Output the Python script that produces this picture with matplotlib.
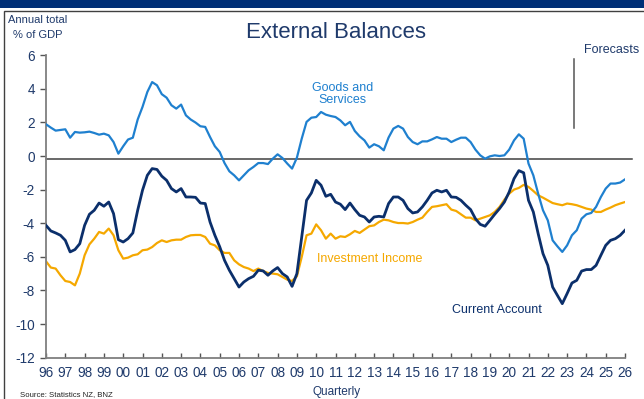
import numpy as np
import matplotlib
matplotlib.use("Agg")
import matplotlib.pyplot as plt
from matplotlib.patches import Rectangle

plt.rcParams['font.family'] = ['Liberation Sans', 'DejaVu Sans']
plt.rcParams['axes.unicode_minus'] = False

# quarterly, 1996Q1 .. 2026Q1, annual totals as % of GDP
goods_services = [
    1.89, 1.69, 1.51, 1.55,
    1.59, 1.09, 1.43, 1.39,
    1.41, 1.45, 1.37, 1.27,
    1.33, 1.23, 0.83, 0.14,
    0.58, 0.98, 1.09, 2.17,
    2.92, 3.81, 4.40, 4.21,
    3.68, 3.47, 3.02, 2.82,
    3.06, 2.42, 2.17, 1.99,
    1.77, 1.73, 1.13, 0.58,
    0.24, -0.42, -0.91, -1.15,
    -1.45, -1.15, -0.85, -0.65,
    -0.42, -0.42, -0.48, -0.16,
    0.10, -0.12, -0.45, -0.75,
    -0.10, 1.03, 2.03, 2.28,
    2.32, 2.62, 2.46, 2.38,
    2.32, 2.12, 1.83, 2.03,
    1.49, 1.17, 0.93, 0.50,
    0.70, 0.58, 0.34, 1.10,
    1.63, 1.79, 1.63, 1.13,
    0.83, 0.70, 0.87, 0.87,
    0.99, 1.13, 1.03, 1.03,
    0.83, 0.97, 1.09, 1.09,
    0.83, 0.38, 0.04, -0.16,
    -0.02, 0.04, 0.00, 0.04,
    0.38, 0.93, 1.29, 1.03,
    -0.45, -1.15, -2.24, -3.23,
    -3.83, -5.02, -5.38, -5.71,
    -5.32, -4.72, -4.42, -3.73,
    -3.47, -3.39, -3.03, -2.44,
    -1.94, -1.64, -1.64, -1.58,
    -1.39,
]

current_account = [
    -4.13, -4.46, -4.58, -4.72,
    -5.02, -5.71, -5.57, -5.22,
    -4.13, -3.47, -3.23, -2.80,
    -2.99, -2.74, -3.43, -4.98,
    -5.12, -4.92, -4.58, -3.23,
    -2.04, -1.15, -0.75, -0.80,
    -1.20, -1.45, -1.94, -2.14,
    -1.94, -2.44, -2.44, -2.46,
    -2.80, -2.83, -3.93, -4.72,
    -5.40, -6.21, -6.80, -7.30,
    -7.80, -7.50, -7.30, -7.16,
    -6.80, -6.84, -7.10, -6.84,
    -6.64, -7.00, -7.20, -7.76,
    -7.00, -4.82, -2.64, -2.20,
    -1.45, -1.74, -2.40, -2.28,
    -2.74, -2.87, -3.19, -2.80,
    -3.19, -3.53, -3.63, -3.93,
    -3.63, -3.59, -3.63, -2.83,
    -2.44, -2.44, -2.64, -3.13,
    -3.39, -3.33, -3.03, -2.64,
    -2.20, -2.04, -2.14, -2.04,
    -2.44, -2.46, -2.64, -2.93,
    -3.19, -3.73, -4.07, -4.18,
    -3.83, -3.47, -3.13, -2.74,
    -2.14, -1.35, -0.87, -1.00,
    -2.64, -3.33, -4.62, -5.81,
    -6.51, -7.80, -8.30, -8.79,
    -8.19, -7.56, -7.40, -6.85,
    -6.76, -6.76, -6.51, -5.91,
    -5.32, -5.02, -4.92, -4.72,
    -4.42,
]

investment_income = [
    -6.27, -6.64, -6.70, -7.10,
    -7.44, -7.50, -7.70, -7.00,
    -5.91, -5.26, -4.92, -4.52,
    -4.62, -4.32, -4.72, -5.61,
    -6.11, -6.05, -5.91, -5.85,
    -5.61, -5.57, -5.42, -5.18,
    -5.02, -5.12, -5.02, -4.98,
    -4.98, -4.82, -4.72, -4.70,
    -4.70, -4.82, -5.22, -5.32,
    -5.61, -5.77, -5.77, -6.21,
    -6.45, -6.61, -6.70, -6.85,
    -6.70, -6.85, -6.96, -7.00,
    -7.04, -7.20, -7.36, -7.44,
    -7.16, -6.01, -4.72, -4.62,
    -4.07, -4.42, -4.92, -4.62,
    -4.92, -4.78, -4.82, -4.66,
    -4.46, -4.58, -4.38, -4.18,
    -4.13, -3.93, -3.79, -3.83,
    -3.93, -3.99, -3.99, -4.02,
    -3.93, -3.79, -3.67, -3.33,
    -3.03, -2.99, -2.93, -2.87,
    -3.19, -3.27, -3.47, -3.67,
    -3.67, -3.83, -3.73, -3.63,
    -3.53, -3.33, -3.03, -2.60,
    -2.24, -2.00, -1.90, -1.72,
    -1.84, -2.08, -2.34, -2.48,
    -2.64, -2.80, -2.87, -2.93,
    -2.83, -2.87, -2.93, -3.03,
    -3.13, -3.19, -3.33, -3.33,
    -3.19, -3.07, -2.93, -2.83,
    -2.74,
]

quarters = 1996 + np.arange(len(goods_services)) / 4
year_ticks = list(range(1996, 2027))
year_labels = ['%02d' % (y % 100) for y in year_ticks]
y_ticks = list(range(-12, 7, 2))
forecast_start = 2023.37

NAVY = '#0b2f6b'
BLUE = '#1f80cf'
GOLD = '#f5a800'
TXT = '#1f3a6b'

fig = plt.figure(figsize=(6.44, 3.99), dpi=100)

# banner strip and frame
fig.patches.append(Rectangle((0, 1 - 8 / 399), 1, 8 / 399, transform=fig.transFigure,
                             facecolor='#002f77', edgecolor='none'))
fig.patches.append(Rectangle((4 / 644, -0.05), 1.1, 1 - 11 / 399 + 0.05,
                             transform=fig.transFigure, facecolor='none',
                             edgecolor='#404040', linewidth=1.0))

ax = fig.add_axes([46 / 644, 1 - 357.6 / 399, 579 / 644, 302.4 / 399])

ax.axhline(-0.2, xmin=0, xmax=1.012, color='#404040', lw=1.1, zorder=1, clip_on=False)
ax.plot(quarters, investment_income, color=GOLD, lw=1.6, zorder=2)
ax.plot(quarters, goods_services, color=BLUE, lw=1.6, zorder=3)
ax.plot(quarters, current_account, color=NAVY, lw=2.0, zorder=4)

ax.plot([forecast_start, forecast_start], [1.67, 5.8], color='#555555', lw=1.1)

ax.set_xlim(1996, 2026)
ax.set_ylim(-12, 6)
ax.set_xticks(year_ticks)
ax.set_xticklabels(year_labels)
ax.set_yticks(y_ticks)
ax.set_yticklabels([str(v) for v in y_ticks])

for s in ['top', 'right']:
    ax.spines[s].set_visible(False)
for s in ['left', 'bottom']:
    ax.spines[s].set_color('#7f7f7f')
    ax.spines[s].set_linewidth(1.3)

ax.tick_params(axis='x', direction='in', length=3.5, width=1, color='#555555',
               labelsize=9.8, labelcolor=TXT, pad=6)
ax.tick_params(axis='y', direction='out', length=4, width=1, color='#555555',
               labelsize=9.8, labelcolor=TXT, pad=4)

ax.text(2011.37, 3.69, 'Goods and\nServices', color=BLUE, fontsize=9,
        ha='center', va='center', linespacing=1.1)
ax.text(2010.03, -6.12, 'Investment Income', color=GOLD, fontsize=9,
        ha='left', va='center')
ax.text(2019.38, -9.18, 'Current Account', color=NAVY, fontsize=9,
        ha='center', va='center')
ax.text(2025.33, 6.32, 'Forecasts', color=TXT, fontsize=9,
        ha='center', va='center', clip_on=False)

fig.text(336 / 644, 1 - 32 / 399, 'External Balances', color=TXT, fontsize=16,
         ha='center', va='center')
fig.text(38 / 644, 1 - 20 / 399, 'Annual total', color=TXT, fontsize=8,
         ha='center', va='center')
fig.text(38 / 644, 1 - 35 / 399, '% of GDP', color=TXT, fontsize=8,
         ha='center', va='center')
fig.text(337 / 644, 1 - 392 / 399, 'Quarterly', color=TXT, fontsize=8.5,
         ha='center', va='center')
fig.text(20 / 644, 1 - 394.5 / 399, 'Source: Statistics NZ, BNZ', color='#222222',
         fontsize=5.6, ha='left', va='center')

fig.savefig('out.png', dpi=100)
